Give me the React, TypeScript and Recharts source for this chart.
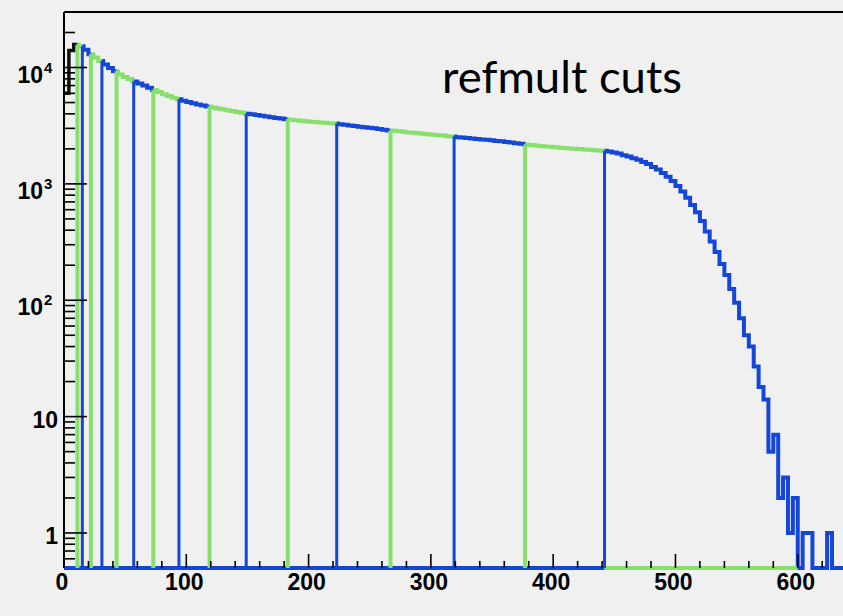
import { ComposedChart, Line, XAxis, YAxis, ReferenceLine } from 'recharts';

// refmult histogram, fixed 4-unit bins starting at 0
const BIN_WIDTH = 4;
const X_MAX = 637;
const Y_MIN = 0.5;
const Y_MAX = 30000;

const counts = [
    6000, 14000, 15800, 15200, 14200, 13000, 12200, 11400, 10600, 9900,
    9300, 8700, 8300, 7950, 7600, 7300, 7000, 6700, 6400, 6150,
    5900, 5700, 5500, 5330, 5180, 5050, 4930, 4820, 4720, 4630,
    4540, 4450, 4370, 4290, 4220, 4150, 4080, 4010, 3960, 3900,
    3850, 3790, 3740, 3690, 3640, 3590, 3550, 3520, 3490, 3450,
    3420, 3400, 3370, 3350, 3320, 3300, 3260, 3230, 3180, 3150,
    3100, 3070, 3030, 3000, 2960, 2920, 2880, 2860, 2830, 2800,
    2770, 2750, 2720, 2700, 2670, 2650, 2620, 2600, 2570, 2550,
    2520, 2500, 2480, 2450, 2430, 2410, 2390, 2370, 2340, 2320,
    2290, 2270, 2240, 2210, 2180, 2160, 2140, 2120, 2100, 2080,
    2060, 2040, 2030, 2010, 2000, 1990, 1970, 1960, 1950, 1940,
    1930, 1900, 1860, 1820, 1760, 1720, 1660, 1610, 1540, 1480,
    1400, 1330, 1240, 1150, 1060, 960, 860, 760, 660, 570,
    480, 390, 320, 260, 205, 165, 125, 95, 70, 50,
    40, 27, 18, 14, 5, 7, 2, 3, 1, 2,
    0, 1, 1, 0, 0, 0, 1, 0, 0, 0,
];

// centrality cut edges on refmult and the colour of the class that starts there
const cutEdges = [11, 15, 22, 31, 43, 57, 73, 94, 119, 149, 183, 223, 267, 319, 377, 442];
const cutColors = [
    'green', 'blue', 'green', 'blue', 'green', 'blue', 'green', 'blue',
    'green', 'blue', 'green', 'blue', 'green', 'blue', 'green', 'blue',
];

// empty-bin lines drawn along the bottom of the frame
const zeroLines = [
    { from: 0, to: 442, color: 'blue' },
    { from: 442, to: 600, color: 'green' },
];

const xMajorTicks = [0, 100, 200, 300, 400, 500, 600];
const yDecades = [1, 10, 100, 1000, 10000];

const COLORS: Record<string, string> = {
    black: '#111111',
    blue: '#1447d8',
    green: '#88e06c',
};
const HIST_WIDTH: Record<string, number> = { black: 3.5, blue: 4, green: 4 };
const CUT_WIDTH: Record<string, number> = { blue: 3, green: 4 };

const countAt = (v: number) => Math.max(counts[Math.min(Math.floor(v / BIN_WIDTH), counts.length - 1)], Y_MIN);

function buildSegment(from: number, to: number) {
    const pts = [{ x: from, y: countAt(from) }];
    counts.forEach((_, i) => {
        const lo = i * BIN_WIDTH;
        if (lo > from && lo < to) pts.push({ x: lo, y: countAt(lo) });
    });
    pts.push({ x: to, y: countAt(to - 0.001) });
    return pts;
}

const edges = [0, ...cutEdges, X_MAX];
const segments = edges.slice(0, -1).map((from, i) => ({
    color: i === 0 ? 'black' : cutColors[i - 1],
    points: buildSegment(from, edges[i + 1]),
}));

// left edge of each class, from the empty level up to the bin content
const cutLines = cutEdges.map((c, i) => ({
    color: cutColors[i],
    points: [{ x: c, y: Y_MIN }, { x: c, y: countAt(c) }],
}));

const xTicks: number[] = [];
for (let v = 0; v <= 620; v += 20) xTicks.push(v);

const yTicks: number[] = [0.6, 0.7, 0.8, 0.9];
yDecades.forEach((d) => {
    for (let k = 1; k <= 9; k++) {
        const v = d * k;
        if (v <= 20000) yTicks.push(v);
    }
});

const LABEL_FONT = '"Liberation Sans", Arial, Helvetica, sans-serif';

function XTick(props: any) {
    const { x, y, payload } = props;
    const major = xMajorTicks.includes(payload.value);
    return (
        <g>
            <line x1={x} x2={x} y1={y} y2={y - (major ? 14 : 7)} stroke="#000" strokeWidth={1.6} />
            {major && (
                <text x={x - 2} y={y + 22} textAnchor="middle" fontFamily={LABEL_FONT} fontWeight="bold" fontSize={23} fill="#000">
                    {payload.value}
                </text>
            )}
        </g>
    );
}

function YTick(props: any) {
    const { x, y, payload } = props;
    const v = payload.value;
    const exp = Math.round(Math.log10(v));
    const major = Math.abs(v - Math.pow(10, exp)) < 1e-6;
    let label = null;
    if (major && exp <= 1) {
        label = (
            <text x={x - 6} y={y + 11} textAnchor="end" fontFamily={LABEL_FONT} fontWeight="bold" fontSize={23} fill="#000">
                {v}
            </text>
        );
    } else if (major) {
        label = (
            <g fontFamily={LABEL_FONT} fontWeight="bold" fill="#000">
                <text x={x - 21} y={y + 15} textAnchor="end" fontSize={23}>10</text>
                <text x={x - 20} y={y + 5} textAnchor="start" fontSize={15}>{exp}</text>
            </g>
        );
    }
    return (
        <g>
            <line x1={x} x2={x + (major ? 23 : 11)} y1={y} y2={y} stroke="#000" strokeWidth={1.6} />
            {label}
        </g>
    );
}

export default function App() {
    return (
        <div style={{ position: 'absolute', left: 0, top: 0, width: 843, height: 616, background: '#f0f0f0' }}>
            <ComposedChart width={843} height={616} margin={{ top: 12, right: 0, left: 0, bottom: 0 }}>
                <XAxis
                    type="number"
                    dataKey="x"
                    domain={[0, X_MAX]}
                    ticks={xTicks}
                    interval={0}
                    height={48}
                    tickSize={0}
                    tickMargin={0}
                    tickLine={false}
                    axisLine={false}
                    tick={<XTick />}
                />
                <YAxis
                    type="number"
                    scale="log"
                    domain={[Y_MIN, Y_MAX]}
                    ticks={yTicks}
                    interval={0}
                    width={64}
                    tickSize={0}
                    tickMargin={0}
                    tickLine={false}
                    axisLine={{ stroke: '#000', strokeWidth: 2 }}
                    tick={<YTick />}
                />
                <ReferenceLine y={Y_MAX} stroke="#000" strokeWidth={2} />
                {segments.map((seg, i) => (
                    <Line
                        key={`seg-${i}`}
                        data={seg.points}
                        dataKey="y"
                        type="stepAfter"
                        stroke={COLORS[seg.color]}
                        strokeWidth={HIST_WIDTH[seg.color]}
                        dot={false}
                        activeDot={false}
                        isAnimationActive={false}
                    />
                ))}
                {zeroLines.map((z, i) => (
                    <Line
                        key={`zero-${i}`}
                        data={[{ x: z.from, y: Y_MIN }, { x: z.to, y: Y_MIN }]}
                        dataKey="y"
                        stroke={COLORS[z.color]}
                        strokeWidth={4}
                        dot={false}
                        activeDot={false}
                        isAnimationActive={false}
                    />
                ))}
                {cutLines.map((c, i) => (
                    <Line
                        key={`cut-${i}`}
                        data={c.points}
                        dataKey="y"
                        stroke={COLORS[c.color]}
                        strokeWidth={CUT_WIDTH[c.color]}
                        dot={false}
                        activeDot={false}
                        isAnimationActive={false}
                    />
                ))}
            </ComposedChart>
            <svg width={843} height={616} style={{ position: 'absolute', left: 0, top: 0, pointerEvents: 'none' }}>
                <text
                    x={442}
                    y={93}
                    fontFamily="Lato, 'Open Sans', sans-serif"
                    fontSize={44}
                    textLength={240}
                    lengthAdjust="spacingAndGlyphs"
                    fill="#000"
                >
                    refmult cuts
                </text>
            </svg>
        </div>
    );
}
